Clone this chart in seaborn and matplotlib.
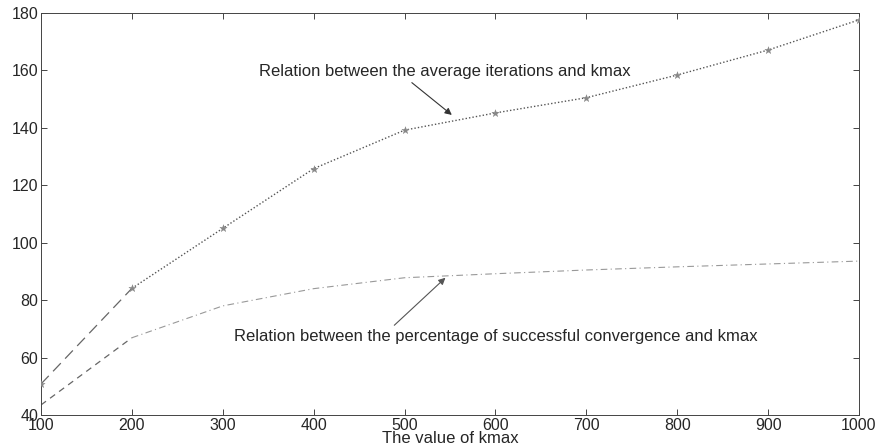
import pandas as pd
import matplotlib
matplotlib.use('Agg')
import matplotlib.pyplot as plt
import seaborn as sns

# Datos
kmax = [100, 200, 300, 400, 500, 600, 700, 800, 900, 1000]
avg_iterations = [50.8, 84.1, 105.0, 125.8, 139.2, 145.2, 150.5, 158.4, 167.1, 177.6]
success_pct = [43.5, 66.9, 78.0, 84.0, 87.8, 89.2, 90.5, 91.6, 92.6, 93.6]

df = pd.DataFrame({'kmax': kmax, 'iter': avg_iterations, 'pct': success_pct})

sns.set_style('ticks')
plt.rcParams['font.family'] = ['Liberation Sans', 'DejaVu Sans']

fig = plt.figure(figsize=(8.77, 4.48), dpi=100)
ax = fig.add_axes([41 / 877, 1 - 415 / 448, 818 / 877, 402 / 448])

# Curva de iteraciones medias: primer tramo a trazos, resto punteado
sns.lineplot(data=df.iloc[:2], x='kmax', y='iter', ax=ax, color='#666666',
             linestyle=(0, (9, 5)), linewidth=0.9)
sns.lineplot(data=df.iloc[1:], x='kmax', y='iter', ax=ax, color='#555555',
             linestyle=(0, (1, 1.5)), linewidth=1.0)
sns.scatterplot(data=df, x='kmax', y='iter', ax=ax, marker='*', s=30,
                color='#888888', edgecolor='#888888', linewidth=0.3, zorder=3)

# Curva del porcentaje de convergencia
sns.lineplot(data=df.iloc[:2], x='kmax', y='pct', ax=ax, color='#666666',
             linestyle=(0, (5, 4)), linewidth=0.9)
sns.lineplot(data=df.iloc[1:], x='kmax', y='pct', ax=ax, color='#999999',
             linestyle=(0, (6, 3, 1, 3)), linewidth=0.8)

ax.annotate('Relation between the average iterations and kmax',
            xy=(552, 144.5), xytext=(340, 159.5), fontsize=12, va='center',
            arrowprops=dict(arrowstyle='-|>', color='#333333', lw=0.8,
                            shrinkA=0, shrinkB=0, mutation_scale=10,
                            relpos=(0.4, 0.0)))
ax.annotate('Relation between the percentage of successful convergence and kmax',
            xy=(545, 87.8), xytext=(312, 67.5), fontsize=12, va='center',
            arrowprops=dict(arrowstyle='-|>', color='#555555', lw=0.8,
                            shrinkA=0, shrinkB=0, mutation_scale=10,
                            relpos=(0.3, 1.0)))

ax.set_xlim(100, 1000)
ax.set_ylim(40, 180)
ax.set_xticks(kmax)
ax.set_yticks(range(40, 181, 20))
ax.tick_params(direction='in', top=True, right=True, length=4, width=0.6,
               labelsize=11.5, pad=2)
for s in ax.spines.values():
    s.set_linewidth(0.7)
    s.set_color('#444444')
ax.set_xlabel('The value of kmax', fontsize=12, labelpad=-1)
ax.set_ylabel('')

plt.savefig('out.png', dpi=100)
